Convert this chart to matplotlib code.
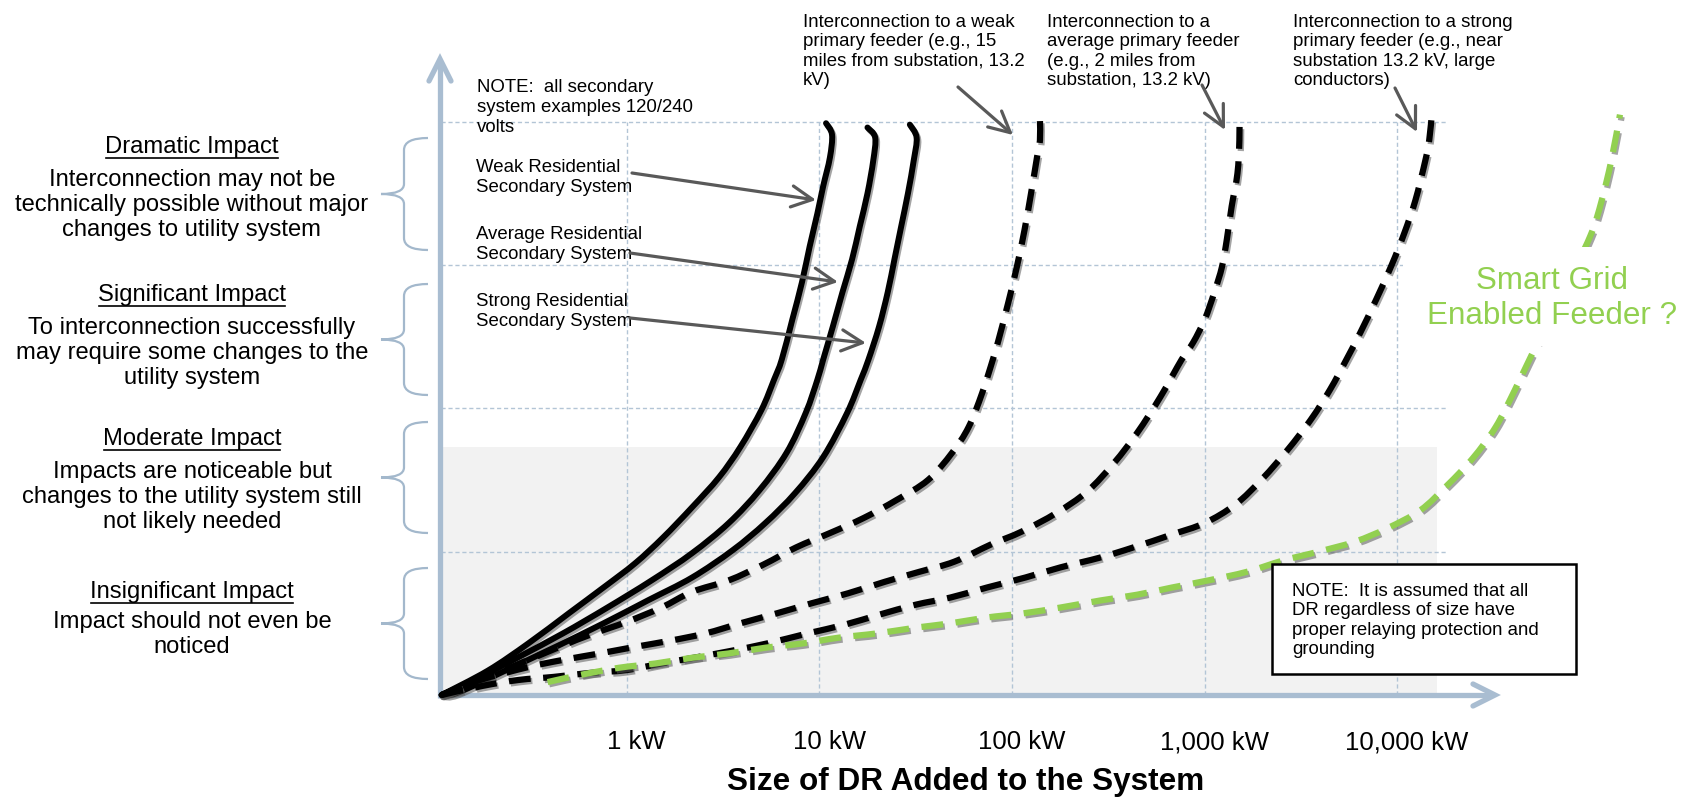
import numpy as np
import matplotlib
matplotlib.use("Agg")
import matplotlib.pyplot as plt
from matplotlib.patches import Rectangle, FancyArrowPatch, PathPatch
from matplotlib.path import Path
import matplotlib.patheffects as pe

plt.rcParams['font.family'] = ['Liberation Sans', 'DejaVu Sans']

# ---------------- data (x = log10 of DR size in kW, y = impact level 0..4) -------------
grid_kw = [1, 10, 100, 1000, 10000]
tick_labels = ["1 kW", "10 kW", "100 kW", "1,000 kW", "10,000 kW"]
impact_levels = [1, 2, 3, 4]

weak_sec_logkw = [-0.96, -0.72, -0.51, -0.30, -0.12, 0.045, 0.19, 0.34, 0.48, 0.59, 0.70,
                  0.765, 0.805, 0.86, 0.91, 0.95, 0.99, 1.02, 1.055, 1.066, 1.035]
weak_sec_level = [0.0, 0.17, 0.36, 0.57, 0.75, 0.92, 1.10, 1.31, 1.52, 1.73, 1.99,
                  2.20, 2.34, 2.62, 2.88, 3.13, 3.36, 3.55, 3.75, 3.91, 3.99]

avg_sec_logkw = [-0.96, -0.79, -0.56, -0.33, -0.10, 0.13, 0.34, 0.53, 0.69, 0.83, 0.93,
                 0.99, 1.02, 1.07, 1.12, 1.17, 1.21, 1.25, 1.28, 1.29, 1.25]
avg_sec_level = [0.0, 0.105, 0.265, 0.43, 0.61, 0.80, 0.99, 1.20, 1.43, 1.69, 1.97,
                 2.20, 2.34, 2.57, 2.81, 3.04, 3.27, 3.50, 3.73, 3.89, 3.96]

strong_sec_logkw = [-0.96, -0.88, -0.63, -0.37, -0.12, 0.11, 0.34, 0.55, 0.72, 0.875, 1.02,
                    1.145, 1.215, 1.255, 1.31, 1.355, 1.39, 1.425, 1.46, 1.49, 1.505, 1.47]
strong_sec_level = [0.0, 0.014, 0.17, 0.335, 0.50, 0.66, 0.82, 1.01, 1.20, 1.41, 1.66,
                    1.97, 2.20, 2.34, 2.57, 2.81, 3.04, 3.27, 3.50, 3.73, 3.89, 3.98]

weak_pri_logkw = [-0.96, -0.66, -0.35, -0.19, 0.00, 0.18, 0.34, 0.53, 0.71, 0.88,
                  1.055, 1.23, 1.40, 1.564, 1.689, 1.775, 1.845, 1.90, 1.93, 1.98,
                  2.025, 2.065, 2.10, 2.13, 2.145, 2.145]
weak_pri_level = [0.0, 0.16, 0.335, 0.42, 0.51, 0.61, 0.72, 0.80, 0.91, 1.03,
                  1.13, 1.235, 1.36, 1.50, 1.69, 1.87, 2.107, 2.338, 2.477, 2.735,
                  2.987, 3.245, 3.51, 3.754, 3.87, 4.01]

avg_pri_logkw = [-0.96, -0.76, -0.51, -0.33, -0.14, 0.04, 0.23, 0.41, 0.59, 0.78,
                 0.96, 1.15, 1.34, 1.52, 1.70, 1.89, 2.05, 2.23, 2.39, 2.53,
                 2.65, 2.77, 2.88, 2.94, 3.00, 3.05, 3.09, 3.115, 3.14, 3.17,
                 3.18, 3.18]
avg_pri_level = [0.0, 0.105, 0.195, 0.245, 0.29, 0.335, 0.38, 0.43, 0.50, 0.57,
                 0.64, 0.71, 0.79, 0.86, 0.93, 1.05, 1.14, 1.27, 1.42, 1.62,
                 1.83, 2.08, 2.34, 2.46, 2.62, 2.81, 2.99, 3.18, 3.41, 3.64,
                 3.87, 4.03]

strong_pri_logkw = [-0.96, -0.75, -0.56, -0.38, -0.19, 0.00, 0.18, 0.37, 0.55, 0.73,
                    0.94, 1.13, 1.31, 1.50, 1.68, 1.87, 2.07, 2.25, 2.46, 2.63,
                    2.83, 3.00, 3.16, 3.30, 3.43, 3.55, 3.65, 3.735, 3.808, 3.89,
                    3.97, 4.035, 4.093, 4.145, 4.165, 4.18]
strong_pri_level = [0.0, 0.063, 0.105, 0.126, 0.154, 0.174, 0.22, 0.265, 0.31, 0.36,
                    0.43, 0.49, 0.56, 0.63, 0.68, 0.75, 0.82, 0.89, 0.96, 1.03,
                    1.12, 1.20, 1.33, 1.51, 1.71, 1.92, 2.13, 2.34, 2.53, 2.76,
                    3.00, 3.22, 3.45, 3.73, 3.87, 4.07]

smart_logkw = [-0.41, -0.24, -0.04, 0.15, 0.34, 0.53, 0.72, 0.915, 1.10, 1.30,
               1.50, 1.68, 1.865, 2.06, 2.25, 2.46, 2.65, 2.83, 3.02, 3.22,
               3.41, 3.59, 3.78, 3.95, 4.12, 4.26, 4.39, 4.51, 4.61, 4.71,
               4.86, 5.00, 5.06, 5.11, 5.155]
smart_level = [0.09, 0.14, 0.19, 0.22, 0.26, 0.29, 0.33, 0.36, 0.40, 0.43,
               0.47, 0.50, 0.54, 0.57, 0.61, 0.66, 0.70, 0.75, 0.80, 0.86,
               0.94, 1.00, 1.07, 1.165, 1.29, 1.465, 1.65, 1.87, 2.13, 2.41,
               2.81, 3.20, 3.45, 3.73, 4.05]

impact_titles = ["Dramatic Impact", "Significant Impact", "Moderate Impact", "Insignificant Impact"]
impact_texts = ["Interconnection may not be\ntechnically possible without major\nchanges to utility system",
                "To interconnection successfully\nmay require some changes to the\nutility system",
                "Impacts are noticeable but\nchanges to the utility system still\nnot likely needed",
                "Impact should not even be\nnoticed"]

# ---------------- figure / axes ----------------
W, H = 1689, 799
fig = plt.figure(figsize=(W / 100, H / 100), dpi=100)
ax = fig.add_axes([0, 0, 1, 1])
ax.set_xscale('log')
PX_1KW, PX_DEC = 626.6, 192.7
PX_Y0, PX_LVL = 695.0, 143.3
ax.set_xlim(10 ** ((0 - PX_1KW) / PX_DEC), 10 ** ((W - PX_1KW) / PX_DEC))
ax.set_ylim((PX_Y0 - H) / PX_LVL, PX_Y0 / PX_LVL)
ax.axis('off')

ov = fig.add_axes([0, 0, 1, 1])
ov.set_xlim(0, W)
ov.set_ylim(H, 0)
ov.axis('off')
ov.patch.set_visible(False)
P = ov.transData

AXC = '#a9bdd1'
GRIDC = '#b3c5d6'
BRACEC = '#a3b8cc'
GREEN = '#92d050'
ARR = '#595959'

# shaded region
ax.add_patch(Rectangle((441, 447), 1437 - 441, 695 - 447, transform=P,
                       fc='#f2f2f2', ec='none', zorder=0))

# gridlines
x_left = 10 ** ((441 - PX_1KW) / PX_DEC)
x_right = 10 ** ((1446 - PX_1KW) / PX_DEC)
ax.vlines(grid_kw, 0, 4, colors=GRIDC, linestyles=(0, (3, 2)), lw=1.0, zorder=1)
ax.hlines(impact_levels, x_left, x_right, colors=GRIDC, linestyles=(0, (3, 2)), lw=1.0, zorder=1)

# axis arrows
ax.plot([440, 440], [698, 62], transform=P, color=AXC, lw=3.8, solid_capstyle='butt', zorder=2)
ax.plot([429, 440, 451], [81, 59, 81], transform=P, color=AXC, lw=3.8,
        solid_capstyle='round', solid_joinstyle='miter', zorder=2)
ax.plot([438, 1492], [695, 695], transform=P, color=AXC, lw=3.8, solid_capstyle='butt', zorder=2)
ax.plot([1473, 1495, 1473], [684, 695, 706], transform=P, color=AXC, lw=3.8,
        solid_capstyle='round', solid_joinstyle='miter', zorder=2)


# curves: smooth (Catmull-Rom style Bezier) line through the read points
def smooth_path(lx, lv):
    pts = np.column_stack([lx, lv]).astype(float)
    ext = np.vstack([pts[0], pts, pts[-1]])
    verts = [pts[0]]
    codes = [Path.MOVETO]
    for i in range(len(pts) - 1):
        p0, p1, p2, p3 = ext[i], ext[i + 1], ext[i + 2], ext[i + 3]
        verts += [p1 + (p2 - p0) / 6.0, p2 - (p3 - p1) / 6.0, p2]
        codes += [Path.CURVE4] * 3
    v = np.array(verts)
    v[:, 0] = 10 ** v[:, 0]
    return Path(v, codes)


shadow = [pe.SimpleLineShadow(offset=(1.2, -1.6), shadow_color='0.35', alpha=0.55), pe.Normal()]
for lx, lv in [(weak_sec_logkw, weak_sec_level), (avg_sec_logkw, avg_sec_level),
               (strong_sec_logkw, strong_sec_level)]:
    ax.add_patch(PathPatch(smooth_path(lx, lv), transform=ax.transData, fill=False, ec='black',
                           lw=4.3, capstyle='round', joinstyle='round', path_effects=shadow, zorder=3))
for lx, lv in [(weak_pri_logkw, weak_pri_level), (avg_pri_logkw, avg_pri_level),
               (strong_pri_logkw, strong_pri_level)]:
    ax.add_patch(PathPatch(smooth_path(lx, lv), transform=ax.transData, fill=False, ec='black',
                           lw=4.5, linestyle=(0, (3.5, 2.0)), capstyle='butt', joinstyle='round',
                           path_effects=shadow, zorder=3))
ax.add_patch(PathPatch(smooth_path(smart_logkw, smart_level), transform=ax.transData, fill=False,
                       ec=GREEN, lw=4.5, linestyle=(0, (3.5, 2.0)), capstyle='butt', joinstyle='round',
                       path_effects=shadow, zorder=3))

# tick labels
for kw, lab in zip(grid_kw, tick_labels):
    ax.annotate(lab, xy=(kw, 0), xycoords='data', xytext=(7, -34), textcoords='offset points',
                ha='center', va='center', fontsize=18.5, color='black')
ax.text(966, 782, "Size of DR Added to the System", transform=P, ha='center', va='center',
        fontsize=22.7, fontweight='bold')


# braces
def brace(top, bot, xr=428, xv=404, xt=381):
    mid = (top + bot) / 2
    verts = [(xr, top), (xv, top), (xv, top + 12),
             (xv, mid - 10), (xv, mid), (xt, mid),
             (xv, mid), (xv, mid + 10),
             (xv, bot - 12), (xv, bot), (xr, bot)]
    codes = [Path.MOVETO, Path.CURVE3, Path.CURVE3,
             Path.LINETO, Path.CURVE3, Path.CURVE3,
             Path.CURVE3, Path.CURVE3,
             Path.LINETO, Path.CURVE3, Path.CURVE3]
    ax.add_patch(PathPatch(Path(verts, codes), transform=P, fc='none', ec=BRACEC, lw=1.6, zorder=2))


brace_spans = [(138, 250), (284, 395), (422, 533), (568, 679)]
for t, b in brace_spans:
    brace(t, b)

# left side descriptions
title_y = [147, 295, 439, 592]
body_y = [205, 353, 497, 634.5]
title_artists = []
for t, ty, body, by in zip(impact_titles, title_y, impact_texts, body_y):
    ta = ax.text(192, ty, t, transform=P, ha='center', va='center', fontsize=17.1)
    title_artists.append((ta, ty))
    ax.text(192, by, body, transform=P, ha='center', va='center', fontsize=17.1, linespacing=1.2)

# annotations
SMALL = 13.45
ax.text(477, 107.5, "NOTE:  all secondary\nsystem examples 120/240\nvolts", transform=P,
        ha='left', va='center', fontsize=SMALL, linespacing=1.2)
sec_labels = [("Weak Residential\nSecondary System", 177.5, (632, 173), (816, 200)),
              ("Average Residential\nSecondary System", 244.5, (630, 253), (838, 282)),
              ("Strong Residential\nSecondary System", 311.5, (630, 318), (866, 343))]
for s, y, a0, a1 in sec_labels:
    ax.text(476, y, s, transform=P, ha='left', va='center', fontsize=SMALL, linespacing=1.2, zorder=4)
    ax.add_patch(FancyArrowPatch(a0, a1, transform=P, arrowstyle='->,head_length=0.75,head_width=0.38',
                                 mutation_scale=20, color=ARR, lw=2.3, shrinkA=0, shrinkB=0, zorder=4))

top_labels = [(803, "Interconnection to a weak\nprimary feeder (e.g., 15\nmiles from substation, 13.2\nkV)",
               (958, 87), (1013, 135)),
              (1047, "Interconnection to a\naverage primary feeder\n(e.g., 2 miles from\nsubstation, 13.2 kV)",
               (1202, 85), (1225, 130)),
              (1293, "Interconnection to a strong\nprimary feeder (e.g., near\nsubstation 13.2 kV, large\nconductors)",
               (1395, 88), (1417, 132))]
for x, s, a0, a1 in top_labels:
    ax.text(x, 51.5, s, transform=P, ha='left', va='center', fontsize=SMALL, linespacing=1.2, zorder=4)
    ax.add_patch(FancyArrowPatch(a0, a1, transform=P, arrowstyle='->,head_length=0.75,head_width=0.38',
                                 mutation_scale=20, color=ARR, lw=2.3, shrinkA=0, shrinkB=0, zorder=4))

# Smart grid label (white background hides curve)
ax.add_patch(Rectangle((1403, 247), 286, 99, transform=P, fc='white', ec='none', zorder=5))
ax.text(1552, 298.5, "Smart Grid\nEnabled Feeder ?", transform=P, ha='center', va='center',
        fontsize=22.6, color=GREEN, linespacing=1.2, zorder=6)

# note box
ax.add_patch(Rectangle((1272, 564), 304, 110, transform=P, fc='white', ec='black', lw=1.8, zorder=5))
ax.text(1292, 620.5, "NOTE:  It is assumed that all\nDR regardless of size have\nproper relaying protection and\ngrounding",
        transform=P, ha='left', va='center', fontsize=SMALL, linespacing=1.2, zorder=6)

# underline titles
fig.canvas.draw()
r = fig.canvas.get_renderer()
for ta, ty in title_artists:
    bb = ta.get_window_extent(r)
    ax.plot([bb.x0 + 1, bb.x1 - 1], [ty + 10.5, ty + 10.5], transform=P, color='black', lw=1.2, zorder=4)

fig.savefig("out.png", dpi=100, facecolor='white')
